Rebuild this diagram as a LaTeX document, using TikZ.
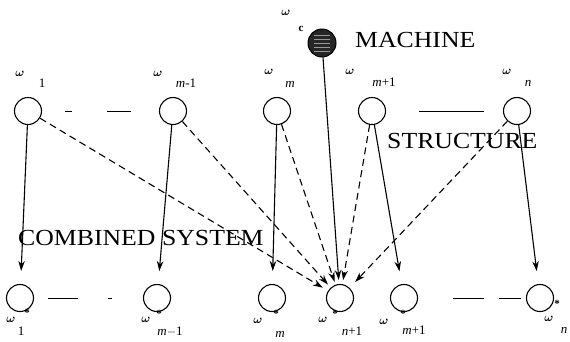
\documentclass[tikz,border=0pt]{standalone}
\usepackage{bm}
\usepackage{fontspec}
\setmainfont{Liberation Serif}
\newfontfamily\widefont[FakeStretch=1.12]{Liberation Serif}
\usetikzlibrary{arrows.meta}
\begin{document}
\begin{tikzpicture}[x=1pt,y=-1pt,
  state/.style={circle,draw,line width=1.1pt,minimum size=27pt,inner sep=0pt},
  big/.style={font=\widefont\fontsize{23}{23}\selectfont,inner sep=0pt,anchor=base west},
  om/.style={font=\fontsize{13}{13}\selectfont,inner sep=0pt},
  sub/.style={font=\fontsize{13}{13}\selectfont,inner sep=0pt},
  st/.style={font=\fontsize{11}{11}\selectfont\bfseries,inner sep=0pt},
  sarrow/.style={line width=1.1pt,-{Stealth[length=10pt,width=6.5pt]}},
  darrow/.style={line width=1.1pt,dash pattern=on 7pt off 4.5pt,-{Stealth[length=10pt,width=6.5pt]}},
  ell/.style={line width=0.9pt}
]
\useasboundingbox (0,0) rectangle (570,341);

% machine
\node[circle,draw,line width=1pt,fill=black!85,minimum size=28pt,inner sep=0pt,
  path picture={\foreach \yy in {-8,-4,0,4,8}{\draw[black!40,line width=0.4pt] ([xshift=-8pt,yshift=\yy pt]path picture bounding box.center) -- ++(16pt,0);}}] (mach) at (322,43) {};
\node[big] (tmach) at (355,47) {MACHINE};
\node[om] (oc) at (286,13) {$\bm{\omega}$};
\node[st] (oc2) at (301,29) {c};

% top nodes
\node[state] (w1) at (28,111) {};
\node[state] (wm1) at (173,111) {};
\node[state] (wm) at (277,111) {};
\node[state] (wmp) at (372,111) {};
\node[state] (wn) at (517,111) {};

\node[om] (lw1) at (20,74) {$\bm{\omega}$};
\node[sub] (lw1s) at (42,83) {1};
\node[om] (lwm1) at (158,74) {$\bm{\omega}$};
\node[sub] (lwm1s) at (186,83) {\textit{m}-1};
\node[om] (lwm) at (269,72) {$\bm{\omega}$};
\node[sub] (lwms) at (290,84) {\textit{m}};
\node[om] (lwmp) at (350,72) {$\bm{\omega}$};
\node[sub] (lwmps) at (384,82) {\textit{m}+1};
\node[om] (lwn) at (507,72) {$\bm{\omega}$};
\node[sub] (lwns) at (528,83) {\textit{n}};

% bottom nodes
\node[state] (ws1) at (20,298) {};
\node[state] (wsm1) at (157,298) {};
\node[state] (wsm) at (272,298) {};
\node[state] (wsnp) at (340,298) {};
\node[state] (wsmp) at (404,298) {};
\node[state] (wsn) at (540,298) {};

\node[om] (lws1) at (11,320) {$\bm{\omega}$};
\node[st] (sws1) at (27,313) {*};
\node[sub] (lws1s) at (21,331) {1};
\node[om] (lwsm1) at (146,320) {$\bm{\omega}$};
\node[st] (swsm1) at (159,314) {*};
\node[sub] (lwsm1s) at (170,332) {\textit{m}$-$1};
\node[om] (lwsm) at (258,321) {$\bm{\omega}$};
\node[st] (swsm) at (276,314) {*};
\node[sub] (lwsms) at (280,334) {\textit{m}};
\node[om] (lwsnp) at (323,320) {$\bm{\omega}$};
\node[st] (swsnp) at (335,314) {*};
\node[sub] (lwsnps) at (352,331) {\textit{n}+1};
\node[om] (lwsmp) at (384,322) {$\bm{\omega}$};
\node[st] (swsmp) at (403,314) {*};
\node[sub] (lwsmps) at (414,330) {\textit{m}+1};
\node[om] (lwsn) at (549,319) {$\bm{\omega}$};
\node[st] (swsn) at (557,304) {*};
\node[sub] (lwsns) at (564,330) {\textit{n}};

% texts
\node[big] (tstruct) at (387,148) {STRUCTURE};
\node[big] (tcomb) at (18,245) {COMBINED SYSTEM};

% ellipsis lines
\draw[ell,dash pattern=on 7pt off 35pt on 25pt] (w1) -- (wm1) [shorten <=23pt, shorten >=28pt];
\draw[ell,shorten <=33pt,shorten >=19pt] (wmp) -- (wn);
\draw[ell,dash pattern=on 30pt off 30pt on 6pt,shorten <=14pt,shorten >=31pt] (ws1) -- (wsm1);
\draw[ell,dash pattern=on 31pt off 15pt on 24pt,shorten <=35pt,shorten >=5pt] (wsmp) -- (wsn);

% solid arrows
\draw[sarrow,shorten >=13pt] (w1) -- (ws1);
\draw[sarrow,shorten >=13pt] (wm1) -- (wsm1);
\draw[sarrow,shorten >=13pt] (wm) -- (wsm);
\draw[sarrow,shorten >=13pt] (wmp) -- (wsmp);
\draw[sarrow,shorten >=13pt] (wn) -- (wsn);
\draw[sarrow,shorten >=4pt] (mach) -- (wsnp);

% dashed arrows
\draw[darrow,shorten >=6pt] (w1) -- (wsnp);
\draw[darrow,shorten >=4pt] (wm1) -- (wsnp);
\draw[darrow,shorten >=3pt] (wm) -- (wsnp);
\draw[darrow,shorten >=4pt] (wmp) -- (wsnp);
\draw[darrow,shorten >=8pt] (wn) -- (wsnp);
\end{tikzpicture}
\end{document}
